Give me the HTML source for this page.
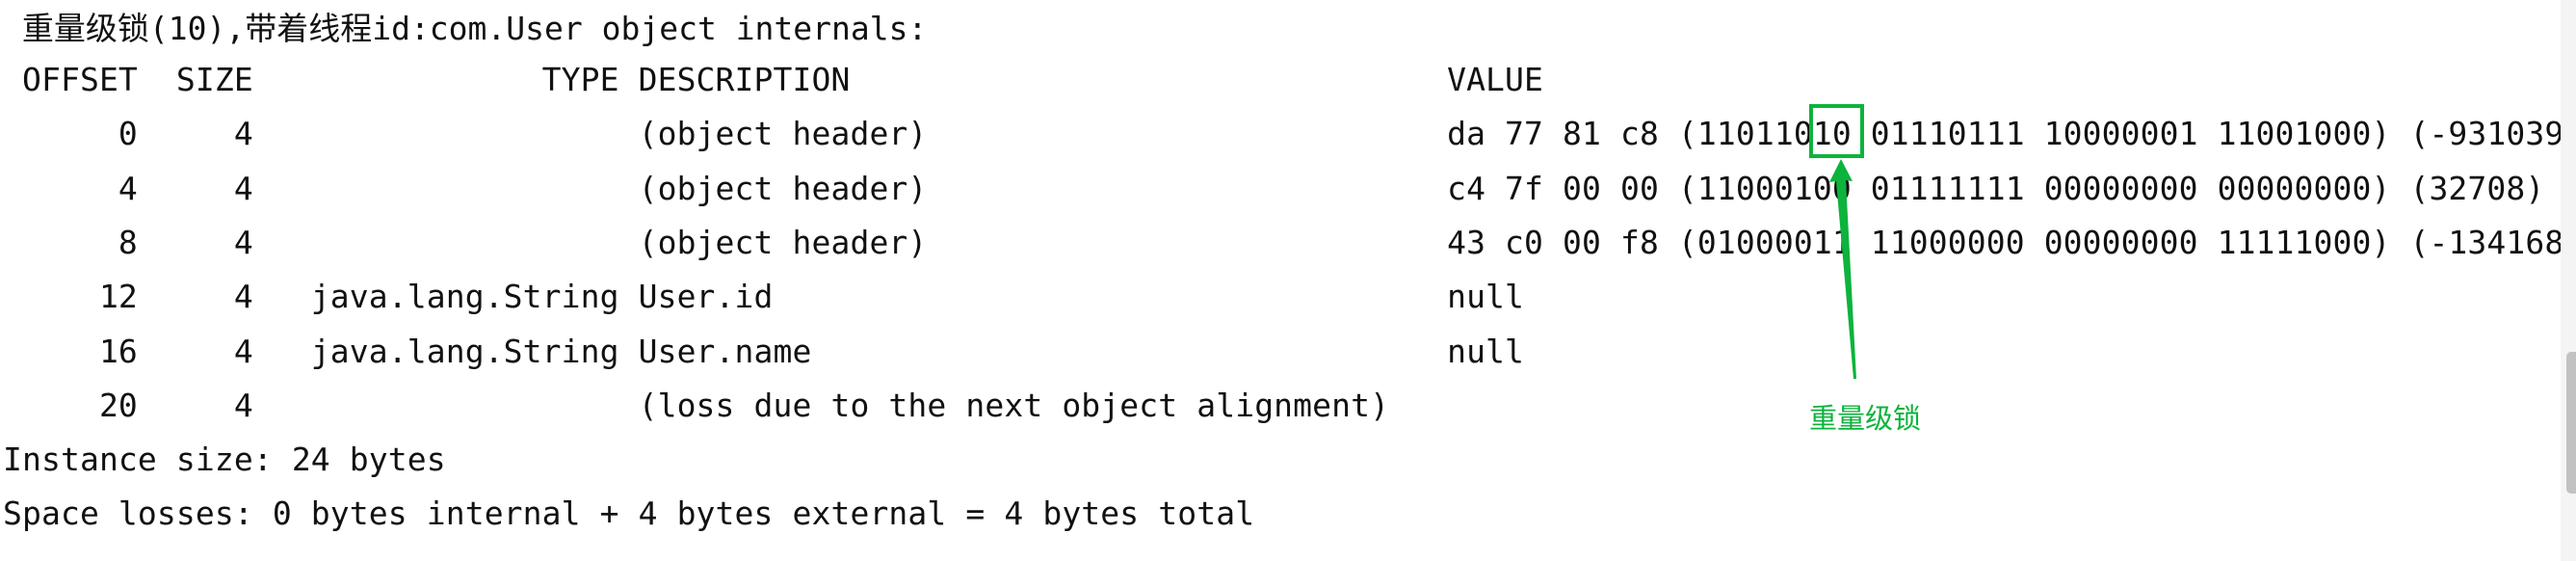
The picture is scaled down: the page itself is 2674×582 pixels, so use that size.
<!DOCTYPE html>
<html><head><meta charset="utf-8"><style>
html,body{margin:0;padding:0;background:#fff;}
body{width:2674px;height:582px;position:relative;overflow:hidden;}
.t{position:absolute;left:3px;width:2655px;overflow:hidden;white-space:pre;font-family:"DejaVu Sans Mono","Liberation Mono","Noto Sans CJK SC",monospace;font-size:33px;letter-spacing:0.12px;line-height:56px;height:56px;color:#111;}
.panel{position:absolute;left:2658px;top:0;width:16px;height:582px;background:#f4f4f4;}
.sb{position:absolute;left:2664px;top:365px;width:10px;height:147px;background:#c2c2c2;border-radius:5px 0 0 5px;}
</style></head><body>
<div class="t" style="top:2px;letter-spacing:0"> 重量级锁(10),带着线程id:com.User object internals:</div>
<div class="t" style="top:55px"> OFFSET  SIZE               TYPE DESCRIPTION                               VALUE</div>
<div class="t" style="top:111px">      0     4                    (object header)                           da 77 81 c8 (11011010 01110111 10000001 11001000) (-931039800)</div>
<div class="t" style="top:168px">      4     4                    (object header)                           c4 7f 00 00 (11000100 01111111 00000000 00000000) (32708)</div>
<div class="t" style="top:224px">      8     4                    (object header)                           43 c0 00 f8 (01000011 11000000 00000000 11111000) (-134168509)</div>
<div class="t" style="top:280px">     12     4   java.lang.String User.id                                   null</div>
<div class="t" style="top:337px">     16     4   java.lang.String User.name                                 null</div>
<div class="t" style="top:393px">     20     4                    (loss due to the next object alignment)</div>
<div class="t" style="top:449px">Instance size: 24 bytes</div>
<div class="t" style="top:505px">Space losses: 0 bytes internal + 4 bytes external = 4 bytes total</div>
<div class="panel"></div><div class="sb"></div>
<svg width="2674" height="582" style="position:absolute;left:0;top:0">
<rect x="1880" y="110" width="53" height="52" fill="none" stroke="#0db33c" stroke-width="4"/>
<polygon points="1911,165 1923,188 1916,187 1927,393 1924,393 1906,188 1899,189" fill="#0db33c"/>
<text x="1878" y="444" font-family="Noto Sans CJK SC, sans-serif" font-size="29" fill="#0db33c">重量级锁</text>
</svg>
</body></html>
